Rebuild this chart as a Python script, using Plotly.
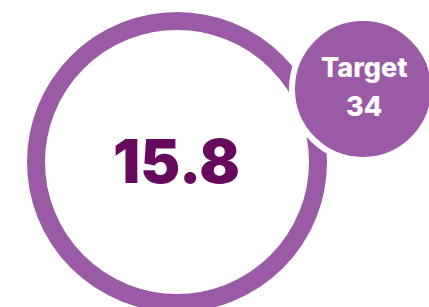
import plotly.graph_objects as go

value = 15.8
target = 34
target_title = "Target"
value_label = f"{value}"
target_label = f"{target}"

ring_color = "#9A5AA5"
value_color = "#660A5E"

fig = go.Figure()

fig.add_shape(type="circle", xref="x", yref="y",
              x0=177 - 141, x1=177 + 141, y0=162 - 141, y1=162 + 141,
              line=dict(color=ring_color, width=18), fillcolor="rgba(0,0,0,0)", layer="below")
fig.add_shape(type="circle", xref="x", yref="y",
              x0=363 - 71, x1=363 + 71, y0=89 - 71, y1=89 + 71,
              line=dict(color="white", width=6), fillcolor=ring_color, layer="below")

fig.add_annotation(x=176, y=161, xref="x", yref="y", text=value_label, showarrow=False,
                   font=dict(family="Inter", size=60, color=value_color, weight=900))
fig.add_annotation(x=364, y=67, xref="x", yref="y", text=target_title, showarrow=False,
                   font=dict(family="Inter", size=27, color="white", weight=800))
fig.add_annotation(x=364, y=106, xref="x", yref="y", text=target_label, showarrow=False,
                   font=dict(family="Inter", size=27, color="white", weight=800))

fig.update_xaxes(range=[0, 429], visible=False, fixedrange=True)
fig.update_yaxes(range=[307, 0], visible=False, fixedrange=True)
fig.update_layout(width=429, height=307, margin=dict(l=0, r=0, t=0, b=0),
                  plot_bgcolor="white", paper_bgcolor="white", showlegend=False)

fig.write_html("out.html", config={"displayModeBar": False},
               post_script="document.body.style.margin='0';document.body.style.overflow='hidden';")
